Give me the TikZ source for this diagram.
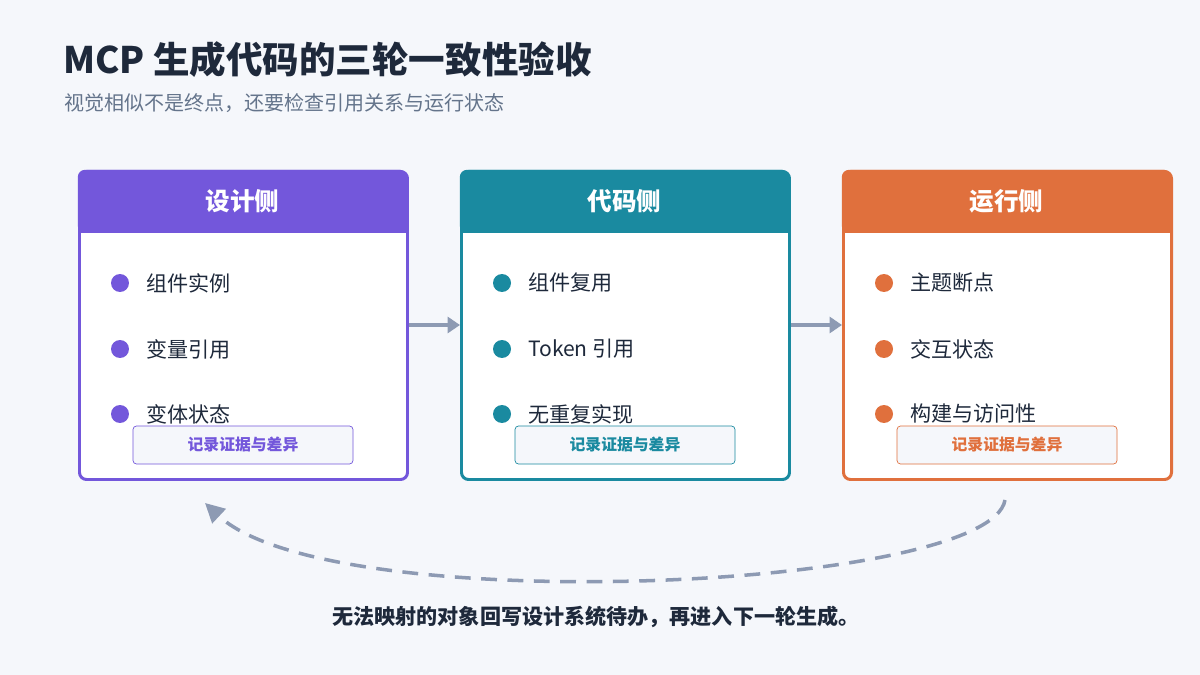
\documentclass[tikz,border=0pt]{standalone}
\usepackage{fontspec}
\setmainfont{Noto Sans CJK SC}
\usetikzlibrary{arrows.meta,positioning}
\definecolor{bgc}{HTML}{F5F7FB}
\definecolor{ink}{HTML}{1E293B}
\definecolor{sub}{HTML}{64748B}
\definecolor{cpur}{HTML}{7357DB}
\definecolor{ctea}{HTML}{1A8AA0}
\definecolor{cora}{HTML}{E0703D}
\definecolor{flow}{HTML}{8D9AB3}
\tikzset{card/.style={draw=#1,line width=1.7pt,fill=white,rounded corners=4pt,minimum width=328*0.02cm,minimum height=308*0.02cm,anchor=north west}}
\tikzset{head/.style={fill=#1,rounded corners=4pt,minimum width=329*0.02cm,minimum height=63*0.02cm,anchor=north west,text=white,font=\bfseries\fontsize{14}{16}\selectfont}}
\tikzset{dot/.style={circle,fill=#1,inner sep=0pt,minimum size=0.36cm}}
\tikzset{item/.style={anchor=west,text=ink,font=\fontsize{12}{14}\selectfont}}
\tikzset{note/.style={draw=#1,fill=bgc,rounded corners=2pt,minimum width=220*0.02cm,minimum height=38*0.02cm,text=#1,font=\bfseries\fontsize{9}{11}\selectfont}}
\tikzset{link/.style={draw=flow,line width=2pt,-{Triangle[length=7pt,width=9pt]}}}
\begin{document}
\begin{tikzpicture}[x=0.02cm,y=-0.02cm]
\fill[bgc] (0,0) rectangle (1200,675);
\node[anchor=west,text=ink,font=\bfseries\fontsize{20.8}{24}\selectfont] (title) at (57,60) {MCP 生成代码的三轮一致性验收};
\node[anchor=west,text=sub,font=\fontsize{11.4}{13}\selectfont] (subtitle) at (58,103) {视觉相似不是终点，还要检查引用关系与运行状态};
% three cards
\foreach \n/\x/\c/\h/\a/\b/\d in {1/78/cpur/设计侧/组件实例/变量引用/变体状态,
  2/460/ctea/代码侧/组件复用/Token 引用/无重复实现,
  3/842/cora/运行侧/主题断点/交互状态/构建与访问性}{
  \node[card=\c] (card\n) at (\x,170) {};
  \node[head=\c] (head\n) at (\x-0.5,169.5) {\h};
  \fill[\c] (\x-0.5,225) rectangle (\x+328.5,233);
  \node[dot=\c] (d\n a) at (\x+42,283) {};
  \node[item] at (\x+62,283) {\a};
  \node[dot=\c] (d\n b) at (\x+42,349) {};
  \node[item] at (\x+62,349) {\b};
  \node[dot=\c] (d\n c) at (\x+42,414) {};
  \node[item] at (\x+62,414) {\d};
  \node[note=\c] (note\n) at (\x+165,445) {记录证据与差异};
}
\draw[link] (card1.east|-0,325) -- (card2.west|-0,325);
\draw[link] (card2.east|-0,325) -- (card3.west|-0,325);
\coordinate (back) at (1005,500);
\coordinate (ret) at (205,503);
\draw[draw=flow,line width=2pt,dash pattern=on 9pt off 6pt,-{Triangle[length=11pt,width=11pt]}]
  (back) .. controls (990,590) and (330,620) .. (ret);
\node[text=ink,font=\bfseries\fontsize{12}{14}\selectfont] (foot) at (596,617) {无法映射的对象回写设计系统待办，再进入下一轮生成。};
\end{tikzpicture}
\end{document}
